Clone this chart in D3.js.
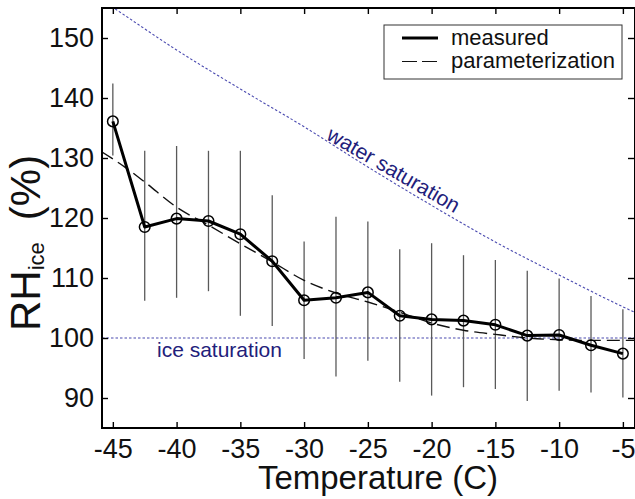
<!DOCTYPE html>
<html>
<head>
<meta charset="utf-8">
<script src="https://cdn.jsdelivr.net/npm/d3@7"></script>
<style>
  body { margin: 0; background: #fff; }
  svg text { font-family: "Liberation Sans", Arial, Helvetica, sans-serif; }
</style>
</head>
<body>
<svg id="chart" width="635" height="499"></svg>
<script>
// measured RH over ice, with error bar ends
const temps = [-45, -42.5, -40, -37.5, -35, -32.5, -30, -27.5, -25, -22.5, -20, -17.5, -15, -12.5, -10, -7.5, -5];
const rhMeasured = [136.1, 118.5, 119.9, 119.5, 117.3, 112.8, 106.3, 106.7, 107.6, 103.7, 103.1, 102.9, 102.2, 100.4, 100.5, 98.8, 97.4];
const errHigh = [142.4, 131.2, 132.0, 131.2, 131.2, 123.8, 116.1, 120.2, 119.4, 114.8, 115.8, 113.8, 113.0, 111.2, 109.9, 107.0, 104.8];
const errLow = [130.4, 106.2, 106.7, 107.8, 103.7, 102.0, 96.5, 93.6, 96.2, 92.7, 90.4, 91.8, 91.5, 89.5, 91.2, 90.9, 90.1];

// parameterization curve
const paramT = [-45.85, -44, -42.5, -40, -37.5, -35, -32.5, -30, -27.5, -25, -22.5, -20, -17.5, -15, -12.5, -10, -7.5, -4.05];
const paramRH = [131.0, 128.4, 126.0, 121.8, 118.8, 115.7, 112.7, 109.6, 107.5, 106.0, 104.3, 102.5, 101.3, 100.6, 100.0, 99.7, 99.6, 99.6];

// water saturation (relative to ice)
const waterT = [-46, -45, -40, -35, -30, -25, -20, -15, -10, -5, -4];
const waterRH = [156.5, 155.1, 148.0, 141.5, 135.2, 128.5, 122.1, 116.0, 110.5, 105.2, 104.2];

const iceLevel = 100;
const xTicks = [-45, -40, -35, -30, -25, -20, -15, -10, -5];
const yTicks = [90, 100, 110, 120, 130, 140, 150];

const svg = d3.select("#chart");
const pL = 102, pR = 635, pT = 8, pB = 428;

const x = d3.scaleLinear().domain([-45.85, -4.05]).range([pL, pR]);
const y = d3.scaleLinear().domain([85, 155]).range([pB, pT]);

svg.append("defs").append("clipPath").attr("id", "plotclip")
    .append("rect")
    .attr("x", pL).attr("y", pT)
    .attr("width", pR - pL).attr("height", pB - pT);

const plot = svg.append("g").attr("clip-path", "url(#plotclip)");

// saturation lines
plot.append("line")
    .attr("x1", pL).attr("x2", pR)
    .attr("y1", y(iceLevel)).attr("y2", y(iceLevel))
    .attr("stroke", "#4b4bb0")
    .attr("stroke-width", 1.1)
    .attr("stroke-dasharray", "2.5,2");

plot.append("path")
    .datum(waterT.map((t, i) => [t, waterRH[i]]))
    .attr("fill", "none")
    .attr("stroke", "#4b4bb0")
    .attr("stroke-width", 1.1)
    .attr("stroke-dasharray", "2.5,2")
    .attr("d", d3.line().x(d => x(d[0])).y(d => y(d[1])).curve(d3.curveMonotoneX));

// error bars
plot.selectAll(".err")
    .data(temps)
    .enter()
    .append("line")
    .attr("class", "err")
    .attr("x1", d => x(d)).attr("x2", d => x(d))
    .attr("y1", (d, i) => y(errHigh[i]))
    .attr("y2", (d, i) => y(errLow[i]))
    .attr("stroke", "#5a5a5a")
    .attr("stroke-width", 1.3);

// parameterization
plot.append("path")
    .datum(paramT.map((t, i) => [t, paramRH[i]]))
    .attr("fill", "none")
    .attr("stroke", "#111")
    .attr("stroke-width", 1.4)
    .attr("stroke-dasharray", "13,6")
    .attr("d", d3.line().x(d => x(d[0])).y(d => y(d[1])).curve(d3.curveMonotoneX));

// measured
plot.append("path")
    .datum(temps.map((t, i) => [t, rhMeasured[i]]))
    .attr("fill", "none")
    .attr("stroke", "#000")
    .attr("stroke-width", 3)
    .attr("stroke-linejoin", "round")
    .attr("d", d3.line().x(d => x(d[0])).y(d => y(d[1])));

plot.selectAll(".pt")
    .data(temps)
    .enter()
    .append("circle")
    .attr("class", "pt")
    .attr("cx", d => x(d))
    .attr("cy", (d, i) => y(rhMeasured[i]))
    .attr("r", 5.3)
    .attr("fill", "none")
    .attr("stroke", "#000")
    .attr("stroke-width", 1.5);

// labels on saturation lines
svg.append("text")
    .attr("x", 157).attr("y", 357)
    .attr("fill", "#22207a")
    .style("font-size", "21px")
    .text("ice saturation");

svg.append("text")
    .attr("transform", "translate(390,176) rotate(30)")
    .attr("text-anchor", "middle")
    .attr("fill", "#22207a")
    .style("font-size", "21px")
    .text("water saturation");

// axes (ticks point inward), plain hyphen for negatives
const fmt = d => String(d);
const gx = svg.append("g")
    .attr("transform", `translate(0,${pB})`)
    .call(d3.axisBottom(x).tickValues(xTicks).tickFormat(fmt).tickSize(-6).tickPadding(11).tickSizeOuter(0));
const gy = svg.append("g")
    .attr("transform", `translate(${pL},0)`)
    .call(d3.axisLeft(y).tickValues(yTicks).tickFormat(fmt).tickSize(-6).tickPadding(8).tickSizeOuter(0));
const gt = svg.append("g")
    .attr("transform", `translate(0,${pT})`)
    .call(d3.axisTop(x).tickValues(xTicks).tickSize(-6).tickFormat("").tickSizeOuter(0));
const gr = svg.append("g")
    .attr("transform", `translate(${pR},0)`)
    .call(d3.axisRight(y).tickValues(yTicks).tickSize(-7).tickFormat("").tickSizeOuter(0));

[gx, gy, gt, gr].forEach(g => {
    g.select(".domain").remove();
    g.selectAll(".tick line").attr("stroke", "#000").attr("stroke-width", 1.4);
    g.selectAll("text")
        .attr("fill", "#111")
        .style("font-size", "27px")
        .style("font-family", '"Liberation Sans", Arial, sans-serif');
});

svg.append("rect")
    .attr("x", pL).attr("y", pT)
    .attr("width", pR - pL).attr("height", pB - pT)
    .attr("fill", "none")
    .attr("stroke", "#000")
    .attr("stroke-width", 2);

// axis titles
svg.append("text")
    .attr("x", 378).attr("y", 489)
    .attr("text-anchor", "middle")
    .attr("fill", "#111")
    .style("font-size", "33px")
    .text("Temperature (C)");

const yl = svg.append("text")
    .attr("transform", "translate(40,331) rotate(-90)")
    .attr("fill", "#111")
    .style("font-size", "42px");
yl.append("tspan").text("RH");
yl.append("tspan").attr("dy", 4).style("font-size", "22px").text("ice");
yl.append("tspan").attr("dy", -4).attr("dx", 22).text("(%)");

// legend
const lg = svg.append("g");
lg.append("rect")
    .attr("x", 384).attr("y", 25)
    .attr("width", 238).attr("height", 54)
    .attr("fill", "#fff")
    .attr("stroke", "#333")
    .attr("stroke-width", 1);
lg.append("line")
    .attr("x1", 402).attr("x2", 438).attr("y1", 38).attr("y2", 38)
    .attr("stroke", "#000").attr("stroke-width", 3);
lg.append("line")
    .attr("x1", 402).attr("x2", 438).attr("y1", 61.5).attr("y2", 61.5)
    .attr("stroke", "#111").attr("stroke-width", 1.2)
    .attr("stroke-dasharray", "15,5");
lg.append("text")
    .attr("x", 451).attr("y", 45)
    .attr("fill", "#111")
    .style("font-size", "22px")
    .text("measured");
lg.append("text")
    .attr("x", 451).attr("y", 68)
    .attr("fill", "#111")
    .style("font-size", "22px")
    .text("parameterization");
</script>
</body>
</html>
